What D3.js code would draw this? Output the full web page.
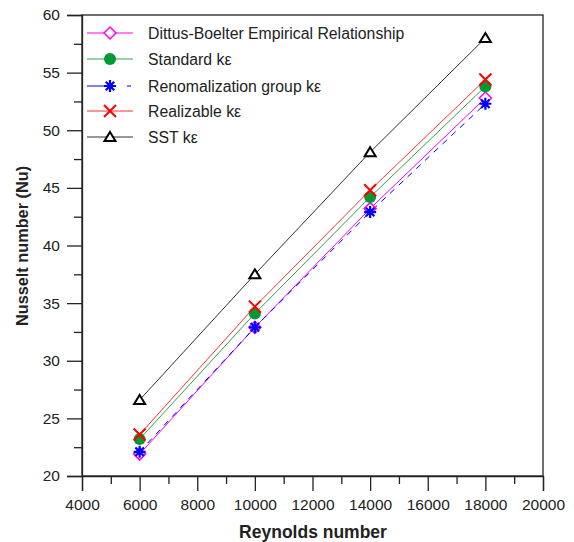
<!DOCTYPE html>
<html><head><meta charset="utf-8">
<script src="https://cdn.jsdelivr.net/npm/d3@7"></script>
<style>body{margin:0;background:#fff;} svg{display:block;font-family:"Liberation Sans",Arial,sans-serif;}</style>
</head><body><svg id="c" width="574" height="542"></svg>
<script>
const reynolds = [6000, 10000, 14000, 18000];
const dittus = [21.9, 32.9, 43.2, 52.8];
const standard = [23.2, 34.1, 44.2, 53.8];
const rng = [22.1, 32.9, 42.9, 52.3];
const realizable = [23.6, 34.7, 44.8, 54.4];
const sst = [26.6, 37.5, 48.1, 58.0];
const seriesNames = ["Dittus-Boelter Empirical Relationship", "Standard k\u03b5", "Renomalization group k\u03b5", "Realizable k\u03b5", "SST k\u03b5"];
const xTicks = [4000, 6000, 8000, 10000, 12000, 14000, 16000, 18000, 20000];
const yTicks = [20, 25, 30, 35, 40, 45, 50, 55, 60];

const series = [
  {name: seriesNames[0], vals: dittus, color: "#ff00ff", marker: "diamond"},
  {name: seriesNames[1], vals: standard, color: "#009933", line: "#33a050", marker: "circle"},
  {name: seriesNames[2], vals: rng, color: "#0000ff", marker: "star", dash: "6,6"},
  {name: seriesNames[3], vals: realizable, color: "#ff0000", line: "#ff3030", marker: "x"},
  {name: seriesNames[4], vals: sst, color: "#000000", line: "#333", marker: "triangle"}
];

const L = 82, R = 543, T = 15, B = 476;
const x = d3.scaleLinear().domain([4000, 20000]).range([L, R]);
const y = d3.scaleLinear().domain([20, 60]).range([B, T]);
const svg = d3.select("#c");

// frame
svg.append("rect").attr("x", L).attr("y", T).attr("width", R - L).attr("height", B - T)
  .attr("fill", "none").attr("stroke", "#222").attr("stroke-width", 1.3);

// x axis
svg.append("g").attr("transform", `translate(0,${B})`)
  .call(d3.axisBottom(x).tickValues(xTicks).tickFormat(d3.format("d")).tickSize(15).tickPadding(8));
svg.append("g").attr("transform", `translate(0,${B})`)
  .call(d3.axisBottom(x).tickValues(d3.range(5000, 20000, 2000)).tickFormat("").tickSize(8))
  .select(".domain").remove();
// y axis
svg.append("g").attr("transform", `translate(${L},0)`)
  .call(d3.axisLeft(y).tickValues(yTicks).tickSize(15).tickPadding(7));
svg.append("g").attr("transform", `translate(${L},0)`)
  .call(d3.axisLeft(y).tickValues(d3.range(22.5, 60, 5)).tickFormat("").tickSize(8))
  .select(".domain").remove();
svg.selectAll(".domain").attr("stroke", "#222").attr("stroke-width", 1.3);
svg.selectAll(".tick line").attr("stroke", "#222").attr("stroke-width", 1.3);
svg.selectAll(".tick text").attr("font-size", 15.5).attr("fill", "#222")
  .attr("font-family", '"Liberation Sans",Arial,sans-serif');

// axis titles
svg.append("text").attr("x", 313).attr("y", 538).attr("text-anchor", "middle")
  .attr("font-size", 17.5).attr("font-weight", "bold").attr("fill", "#222").text("Reynolds number");
svg.append("text").attr("transform", `translate(28,246) rotate(-90)`).attr("text-anchor", "middle")
  .attr("font-size", 16.3).attr("font-weight", "bold").attr("fill", "#222").text("Nusselt number (Nu)");

function drawMarker(g, type, color) {
  if (type === "diamond") {
    g.append("path").attr("d", "M0,-6L6,0L0,6L-6,0Z").attr("fill", "#fff").attr("stroke", color).attr("stroke-width", 1.5);
  } else if (type === "circle") {
    g.append("circle").attr("r", 6).attr("fill", color);
  } else if (type === "star") {
    const p = d3.path();
    for (let i = 0; i < 4; i++) {
      const a = i * Math.PI / 4;
      p.moveTo(-6 * Math.cos(a), -6 * Math.sin(a)); p.lineTo(6 * Math.cos(a), 6 * Math.sin(a));
    }
    g.append("path").attr("d", p.toString()).attr("stroke", color).attr("stroke-width", 2.2);
    g.append("circle").attr("r", 3).attr("fill", color);
  } else if (type === "x") {
    g.append("path").attr("d", "M-6,-6L6,6M-6,6L6,-6").attr("stroke", color).attr("stroke-width", 2);
  } else if (type === "triangle") {
    g.append("path").attr("d", "M0,-5L5.5,4L-5.5,4Z").attr("fill", "#fff").attr("stroke", color).attr("stroke-width", 2);
  }
}

const line = d3.line().x((d, i) => x(reynolds[i])).y(d => y(d));
series.forEach(s => {
  svg.append("path").datum(s.vals).attr("d", line).attr("fill", "none")
    .attr("stroke", s.line || s.color).attr("stroke-width", 1)
    .attr("stroke-dasharray", s.dash || null);
});
series.forEach(s => {
  s.vals.forEach((v, i) => {
    const g = svg.append("g").attr("transform", `translate(${x(reynolds[i])},${y(v)})`);
    drawMarker(g, s.marker, s.color);
  });
});

// legend
const legY = [33, 59, 86, 111, 137];
series.forEach((s, i) => {
  const g = svg.append("g").attr("transform", `translate(0,${legY[i]})`);
  g.append("line").attr("x1", 87).attr("x2", 133).attr("y1", 0).attr("y2", 0)
    .attr("stroke", s.line || s.color).attr("stroke-width", 1)
    .attr("stroke-dasharray", s.dash ? "20,20,4,10" : null);
  const m = g.append("g").attr("transform", "translate(110,0)");
  drawMarker(m, s.marker, s.color);
  g.append("text").attr("x", 148).attr("y", 5.5).attr("font-size", 15.8).attr("fill", "#222").text(s.name);
});
</script></body></html>
